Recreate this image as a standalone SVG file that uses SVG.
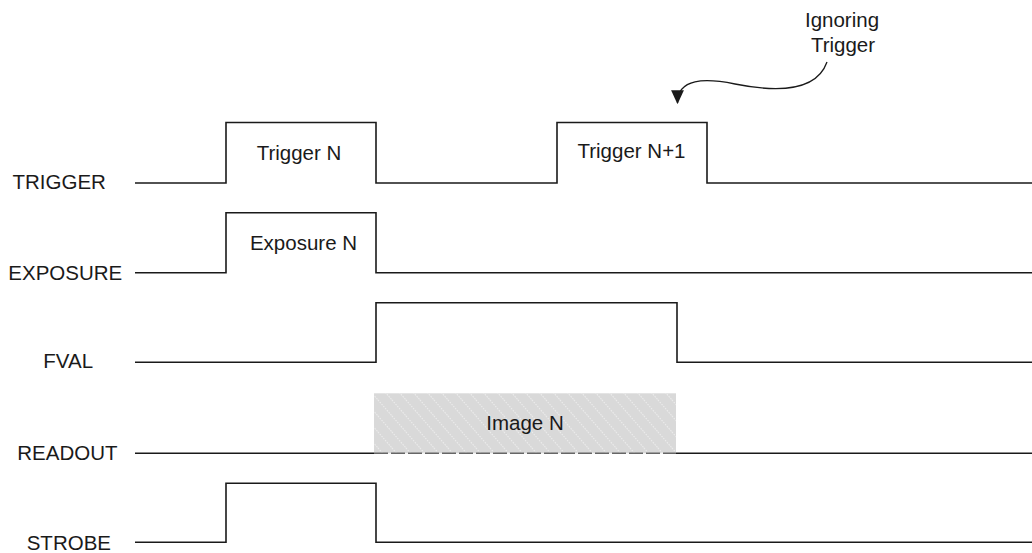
<svg xmlns="http://www.w3.org/2000/svg" width="1032" height="553" viewBox="0 0 1032 553">
  <style>
    .lbl { font-family: "Liberation Sans", Arial, sans-serif; font-size: 20.5px; fill: #1a1a1a; }
    .mid { text-anchor: middle; }
    .sig { fill: none; stroke: #1a1a1a; stroke-width: 1.6; stroke-linejoin: miter; }
    .conn { fill: none; stroke: #1a1a1a; stroke-width: 1.3; }
  </style>
  <defs>
    <pattern id="hatch" patternUnits="userSpaceOnUse" width="14" height="16">
      <rect width="14" height="16" fill="#d9d9d9"/>
      <path d="M0,0 L14,16 M-2,13.7 L2,18.3 M12,-2.3 L16,2.3" stroke="#ececec" stroke-width="1.1" stroke-dasharray="1.5 1.2"/>
    </pattern>
    <marker id="arrow" markerUnits="userSpaceOnUse" markerWidth="14" markerHeight="14" viewBox="0 0 12 12" refX="11" refY="6" orient="auto">
      <path d="M0,0.5 L12,6 L0,11.5 Z" fill="#1a1a1a"/>
    </marker>
  </defs>

  <rect width="1032" height="553" fill="#ffffff"/>

  <!-- TRIGGER: two pulses -->
  <g id="trigger">
    <text class="lbl" x="12.5" y="189">TRIGGER</text>
    <path class="sig" d="M135,183 H226 V122.5 H376 V183 H557 V122.5 H707 V183 H1032"/>
    <text class="lbl mid" x="299" y="160">Trigger N</text>
    <text class="lbl mid" x="631.5" y="158">Trigger N+1</text>
  </g>

  <!-- EXPOSURE -->
  <g id="exposure">
    <text class="lbl" x="8.3" y="280">EXPOSURE</text>
    <path class="sig" d="M135,272.7 H226 V212.7 H376 V272.7 H1032"/>
    <text class="lbl mid" x="303.5" y="250">Exposure N</text>
  </g>

  <!-- FVAL -->
  <g id="fval">
    <text class="lbl" x="43.3" y="368">FVAL</text>
    <path class="sig" d="M135,362.3 H376 V302.7 H677 V362.3 H1032"/>
  </g>

  <!-- READOUT: hatched data window -->
  <g id="readout">
    <text class="lbl" x="17.3" y="460">READOUT</text>
    <path class="sig" d="M135,453.3 H374 M676 453.3 H1032"/>
    <rect x="374" y="393.3" width="302" height="60" fill="url(#hatch)"/>
    <line x1="374" y1="453.3" x2="676" y2="453.3" stroke="#666" stroke-width="1.6" stroke-dasharray="14 3"/>
    <text class="lbl mid" x="525" y="430">Image N</text>
  </g>

  <!-- STROBE -->
  <g id="strobe">
    <text class="lbl" x="26.7" y="550">STROBE</text>
    <path class="sig" d="M135,542.3 H226 V483.3 H376 V542.3 H1032"/>
  </g>

  <!-- annotation -->
  <g id="note">
    <text class="lbl mid" x="842" y="27">Ignoring</text>
    <text class="lbl mid" x="843" y="51.5">Trigger</text>
  </g>

  <g id="connectors">
    <path class="conn" d="M827,62 C815,96 765,90 735,84 C705,78 677.5,78 677.5,103" marker-end="url(#arrow)"/>
  </g>
</svg>
